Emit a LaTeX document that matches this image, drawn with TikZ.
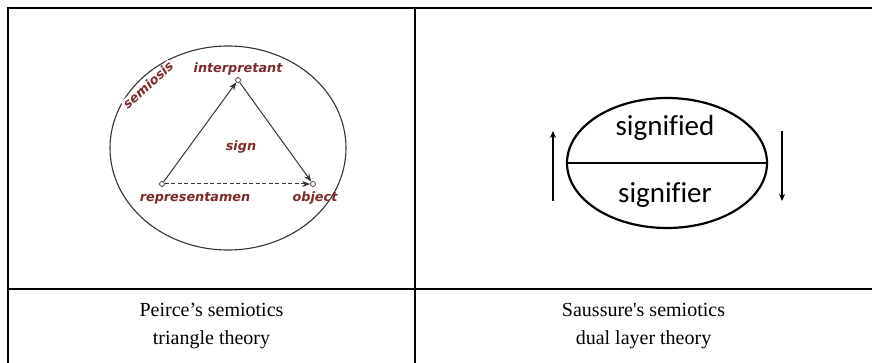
\documentclass[tikz,border=0pt]{standalone}
\usepackage{fontspec}
\setmainfont{Liberation Serif}
\newfontfamily\capfont{Liberation Serif}
\newfontfamily\dejafont{DejaVu Sans}
\newfontfamily\carlfont[Ligatures=NoCommon]{Carlito}
\usetikzlibrary{arrows.meta,shapes.geometric}
\definecolor{peircered}{HTML}{7E2A2A}
\definecolor{peirceline}{HTML}{3A3232}
\tikzset{
  grid/.style={line width=2pt, black},
  caption/.style={font=\capfont\fontsize{20}{28}\selectfont, align=center, inner sep=0pt},
  plabel/.style={font=\dejafont\bfseries\itshape\fontsize{12.8}{13}\selectfont, text=peircered, inner sep=1pt},
  vtx/.style={circle, draw=peirceline, fill=white, line width=0.7pt, minimum size=5pt, inner sep=0pt},
  pline/.style={draw=peirceline, line width=1pt, -{Stealth[length=8pt,width=6pt]}},
  slabel/.style={font=\carlfont\fontsize{29}{30}\selectfont, inner sep=0pt},
  sarrow/.style={line width=1.6pt, -{Stealth[length=7pt,width=6pt]}}
}
\begin{document}
\begin{tikzpicture}[x=1pt,y=-1pt]
\useasboundingbox (0,0) rectangle (872,363);
% table grid
\coordinate (tl) at (8,8);
\coordinate (tr) at (872,8);
\coordinate (bl) at (8,363);
\coordinate (mt) at (415,8);
\coordinate (mb) at (415,363);
\coordinate (ml) at (8,289);
\coordinate (mr) at (872,289);
\draw[grid] (tr) -- (tl) -- (bl);
\draw[grid] (mt) -- (mb);
\draw[grid] (ml) -- (mr);

% Peirce
\node[draw=peirceline, line width=1.1pt, ellipse, minimum width=236pt, minimum height=204pt] (pell) at (228,148) {};
\node[plabel, fill=white, rotate=42, inner sep=0.5pt] (semiosis) at (148,85) {semiosis};
\node[vtx] (int) at (238,80) {};
\node[vtx] (rep) at (162,184) {};
\node[vtx] (obj) at (313,184) {};
\draw[pline] (rep) -- (int);
\draw[pline] (int) -- (obj);
\draw[pline, dashed, dash pattern=on 4pt off 2.5pt] (rep) -- (obj);
\node[plabel] (intl) at (238,69) {interpretant};
\node[plabel] (sign) at (241,147) {sign};
\node[plabel] (repl) at (195,198) {representamen};
\node[plabel] (objl) at (315,198) {object};

% Saussure
\node[draw, line width=2.2pt, ellipse, minimum width=200pt, minimum height=130pt] (sell) at (667,163) {};
\draw[line width=2pt] (sell.west) -- (sell.east);
\node[slabel] (sfd) at (665,128) {signified};
\node[slabel] (sfr) at (665,195) {signifier};
\coordinate (lu0) at (553,201);
\coordinate (lu1) at (553,131);
\coordinate (rd0) at (782,131);
\coordinate (rd1) at (782,201);
\draw[sarrow] (lu0) -- (lu1);
\draw[sarrow] (rd0) -- (rd1);

% captions
\node[caption] (pcap) at (211.5,326) {Peirce’s semiotics\\triangle theory};
\node[caption] (scap) at (643.5,326) {Saussure's semiotics\\dual layer theory};
\end{tikzpicture}
\end{document}
